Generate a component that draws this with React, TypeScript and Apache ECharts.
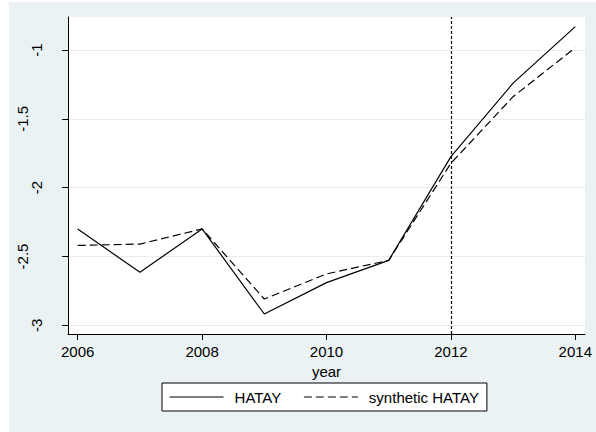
import React, { useEffect, useRef } from "react";
import * as echarts from "echarts";

// Years on the x axis
const years = [2006, 2007, 2008, 2009, 2010, 2011, 2012, 2013, 2014];
// Observed outcome for HATAY
const hatay = [-2.3, -2.615, -2.3, -2.918, -2.69, -2.528, -1.775, -1.241, -0.83];
// Synthetic control estimate
const synthetic = [-2.42, -2.41, -2.3, -2.809, -2.627, -2.528, -1.823, -1.339, -0.983];
// Tick labels
const xTicks = [2006, 2008, 2010, 2012, 2014];
const yTicks = [-3, -2.5, -2, -1.5, -1];
// Treatment year marker
const treatmentYear = 2012;

const BG = "#eaf2f3";
const FONT = "'Liberation Sans', Arial, sans-serif";

export default function App() {
  const ref = useRef<HTMLDivElement>(null);

  useEffect(() => {
    document.body.style.margin = "0";
    if (!ref.current) return;
    const chart = echarts.init(ref.current, undefined, { renderer: "svg" });

    const hatayData = years.map((y, i) => [y, hatay[i]]);
    const synthData = years.map((y, i) => [y, synthetic[i]]);

    const hidden = {
      axisLine: { show: false },
      axisTick: { show: false },
      axisLabel: { show: false },
      splitLine: { show: false },
    };

    chart.setOption({
      animation: false,
      backgroundColor: BG,
      textStyle: { fontFamily: FONT },
      graphic: [
        { type: "rect", left: 0, top: 0, shape: { x: 0, y: 0, width: 9, height: 432 }, style: { fill: "#ffffff" } },
        { type: "rect", left: 0, top: 0, shape: { x: 0, y: 0, width: 596, height: 2 }, style: { fill: "#ffffff" } },
      ],
      grid: [
        // plot region
        { left: 68, right: 11, top: 17, bottom: 98, show: true, backgroundColor: "#ffffff", borderWidth: 0 },
        // x tick layout
        { left: 77.7, right: 20.7, top: 17, bottom: 98 },
        // y tick layout
        { left: 68, right: 11, top: 50, bottom: 106.7 },
      ],
      xAxis: [
        {
          gridIndex: 0,
          type: "value",
          min: 2005.844,
          max: 2014.156,
          axisLine: { show: true, lineStyle: { color: "#000", width: 1 } },
          axisTick: { show: false },
          axisLabel: { show: false },
          splitLine: { show: false },
        },
        {
          gridIndex: 1,
          type: "value",
          min: xTicks[0],
          max: xTicks[xTicks.length - 1],
          interval: 2,
          axisLine: { show: false },
          axisTick: { show: true, length: 6, lineStyle: { color: "#000" } },
          axisLabel: {
            show: true,
            fontSize: 15,
            color: "#000",
            margin: 10,
            fontFamily: FONT,
            formatter: (v: number) => String(v),
          },
          splitLine: { show: false },
          name: "year",
          nameLocation: "middle",
          nameGap: 20,
          nameTextStyle: { fontSize: 15, color: "#000", fontFamily: FONT },
        },
        { gridIndex: 2, type: "value", min: 0, max: 1, ...hidden },
      ],
      yAxis: [
        {
          gridIndex: 0,
          type: "value",
          min: -3.0632,
          max: -0.7603,
          axisLine: { show: true, lineStyle: { color: "#000", width: 1 } },
          axisTick: { show: false },
          axisLabel: { show: false },
          splitLine: { show: false },
        },
        { gridIndex: 1, type: "value", min: 0, max: 1, ...hidden },
        {
          gridIndex: 2,
          type: "value",
          min: yTicks[0],
          max: yTicks[yTicks.length - 1],
          interval: 0.5,
          axisLine: { show: false },
          axisTick: { show: true, length: 6, lineStyle: { color: "#000" } },
          axisLabel: {
            show: true,
            rotate: 90,
            margin: 24,
            fontSize: 15,
            color: "#000",
            fontFamily: FONT,
            formatter: (v: number) => (Number.isInteger(v) ? `{i|${v}}` : `{d|${v}}`),
            rich: {
              i: { fontSize: 15, color: "#000", fontFamily: FONT },
              d: { fontSize: 15, color: "#000", fontFamily: FONT, padding: [0, 0, 14, 0] },
            },
          },
          splitLine: { show: true, lineStyle: { color: "#e4eef0", width: 1 } },
        },
      ],
      legend: {
        left: 162,
        top: 383,
        orient: "horizontal",
        backgroundColor: "#ffffff",
        borderColor: "#000",
        borderWidth: 1,
        borderRadius: 0,
        padding: [6, 8, 6, 7],
        itemGap: 22,
        itemWidth: 54,
        itemHeight: 14,
        lineStyle: { width: 1.2 },
        itemStyle: { color: "rgba(0,0,0,0)", borderColor: "rgba(0,0,0,0)", borderWidth: 0 },
        textStyle: { fontSize: 15, color: "#000", fontFamily: FONT, lineHeight: 16, padding: [0, 0, 0, 6] },
        data: ["HATAY", "synthetic HATAY"],
      },
      series: [
        {
          name: "HATAY",
          type: "line",
          xAxisIndex: 0,
          yAxisIndex: 0,
          data: hatayData,
          symbol: "none",
          lineStyle: { color: "#000", width: 1.2, type: "solid" },
          itemStyle: { color: "#000" },
          markLine: {
            silent: true,
            symbol: "none",
            label: { show: false },
            lineStyle: { color: "#000", width: 1.2, type: [3, 2] },
            data: [{ xAxis: treatmentYear }],
          },
        },
        {
          name: "synthetic HATAY",
          type: "line",
          xAxisIndex: 0,
          yAxisIndex: 0,
          data: synthData,
          symbol: "none",
          lineStyle: { color: "#000", width: 1.2, type: [8, 4] },
          itemStyle: { color: "#000" },
        },
      ],
    });

    return () => chart.dispose();
  }, []);

  return <div ref={ref} style={{ position: "absolute", left: 0, top: 0, width: 596, height: 432 }} />;
}
